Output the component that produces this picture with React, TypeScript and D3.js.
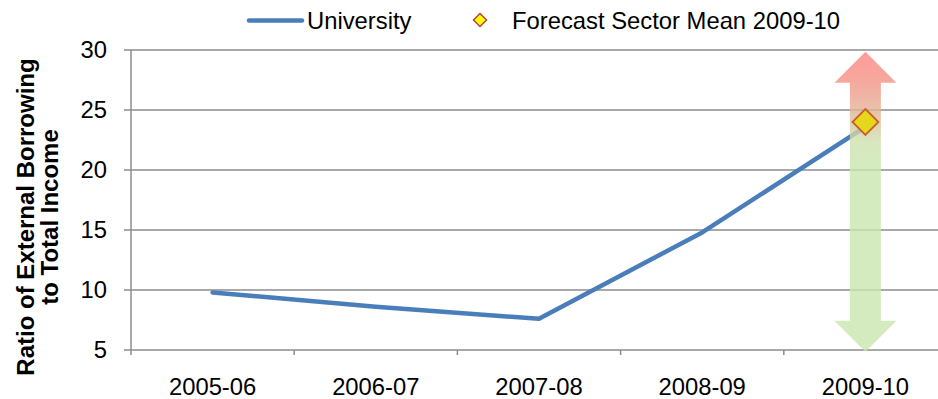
import React from "react";
import * as d3 from "d3";

// Chart data
const categories = ["2005-06", "2006-07", "2007-08", "2008-09", "2009-10"];
const universityRatio = [9.8, 8.6, 7.6, 14.8, 23.6];
const forecastCategory = "2009-10";
const forecastSectorMean = 24;
const forecastRange = [4.85, 29.85];
const yTicks = [5, 10, 15, 20, 25, 30];
const seriesNames = ["University", "Forecast Sector Mean 2009-10"];
const yTitleLines = ["Ratio of External Borrowing", "to Total Income"];

const W = 938;
const H = 399;
const plot = { left: 131, top: 50, bottom: 350, band: 163.2 };
const FONT = "'Liberation Sans', Arial, sans-serif";
const FS = 23.8;

export default function App() {
  const x = d3
    .scaleBand<string>()
    .domain(categories)
    .range([plot.left, plot.left + plot.band * categories.length])
    .paddingInner(0)
    .paddingOuter(0);
  const cx = (c: string) => (x(c) as number) + x.bandwidth() / 2;
  const y = d3.scaleLinear().domain([5, 30]).range([plot.bottom, plot.top]);

  const line = d3
    .line<number>()
    .x((_, i) => cx(categories[i]))
    .y((d) => y(d));

  // Double-headed range arrow around the forecast
  const ax = cx(forecastCategory);
  const top = y(forecastRange[1]);
  const bot = y(forecastRange[0]);
  const shaftHalf = 15.5;
  const headHalf = 31;
  const headH = 31;
  const arrowPath = [
    [ax, top],
    [ax + headHalf, top + headH],
    [ax + shaftHalf, top + headH],
    [ax + shaftHalf, bot - headH],
    [ax + headHalf, bot - headH],
    [ax, bot],
    [ax - headHalf, bot - headH],
    [ax - shaftHalf, bot - headH],
    [ax - shaftHalf, top + headH],
    [ax - headHalf, top + headH],
  ];
  const arrowD = "M" + arrowPath.map((p) => p.join(",")).join("L") + "Z";

  const diamond = (px: number, py: number, r: number) =>
    `M${px},${py - r}L${px + r},${py}L${px},${py + r}L${px - r},${py}Z`;

  const gridColor = "#8c8c8c";

  return (
    <svg
      width={W}
      height={H}
      style={{ position: "absolute", left: 0, top: 0, background: "#fff" }}
      fontFamily={FONT}
    >
      <defs>
        <linearGradient id="rangeGrad" gradientUnits="userSpaceOnUse" x1={0} y1={top} x2={0} y2={bot}>
          <stop offset="0" stopColor="#ff8282" />
          <stop offset="0.1" stopColor="#f39385" />
          <stop offset="0.2" stopColor="#e2b495" />
          <stop offset="0.3" stopColor="#cde1ae" />
          <stop offset="0.36" stopColor="#c9e6ae" />
          <stop offset="1" stopColor="#c9e6ae" />
        </linearGradient>
      </defs>

      {/* gridlines and y ticks */}
      {yTicks.map((t) => (
        <g key={t}>
          <line x1={plot.left - 7} x2={W} y1={y(t)} y2={y(t)} stroke={gridColor} strokeWidth={1.5} />
          <text x={107} y={y(t) + 8} textAnchor="end" fontSize={FS} fill="#000">
            {t}
          </text>
        </g>
      ))}
      {/* y axis */}
      <line x1={plot.left} x2={plot.left} y1={plot.top} y2={plot.bottom + 5} stroke={gridColor} strokeWidth={1.5} />
      {/* x ticks and labels */}
      {categories.map((c, i) => (
        <g key={c}>
          {i > 0 && (
            <line x1={x(c)} x2={x(c)} y1={plot.bottom} y2={plot.bottom + 5} stroke={gridColor} strokeWidth={1.5} />
          )}
          <text x={cx(c)} y={395} textAnchor="middle" fontSize={FS} fill="#000">
            {c}
          </text>
        </g>
      ))}

      {/* university series */}
      <path
        d={line(universityRatio) || ""}
        fill="none"
        stroke="#4a7ebb"
        strokeWidth={4.5}
        strokeLinecap="round"
        strokeLinejoin="round"
      />

      {/* forecast range arrow */}
      <path d={arrowD} fill="url(#rangeGrad)" opacity={0.8} />

      {/* forecast sector mean */}
      <path
        d={diamond(cx(forecastCategory), y(forecastSectorMean), 13)}
        fill="#e5d61e"
        stroke="#c8602c"
        strokeWidth={1.8}
      />

      {/* legend */}
      <line x1={249} x2={302} y1={20.5} y2={20.5} stroke="#4a7ebb" strokeWidth={4.5} strokeLinecap="round" />
      <text x={307} y={28.5} fontSize={FS} fill="#000">
        {seriesNames[0]}
      </text>
      <path d={diamond(480, 20, 6.5)} fill="#ffff00" stroke="#b8403a" strokeWidth={1.5} />
      <text x={512} y={28.5} fontSize={FS} fill="#000">
        {seriesNames[1]}
      </text>

      {/* y axis title */}
      <g transform="translate(0,217) rotate(-90)">
        <text x={0} y={34} textAnchor="middle" fontSize={24} fontWeight="bold" fill="#000">
          {yTitleLines[0]}
        </text>
        <text x={0} y={58} textAnchor="middle" fontSize={24} fontWeight="bold" fill="#000">
          {yTitleLines[1]}
        </text>
      </g>
    </svg>
  );
}
